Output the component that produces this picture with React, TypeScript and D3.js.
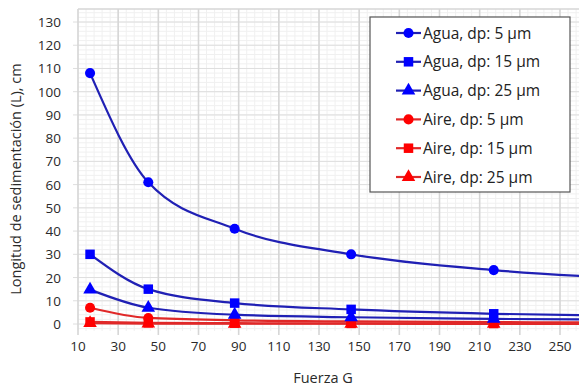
import React, { useEffect, useRef } from 'react';
import * as d3 from 'd3';

const fuerzaG = [16, 45, 88, 146, 217, 303];

const aguaDp5 = [108, 61, 41, 30, 23.2, 18.8];
const aguaDp15 = [30, 15, 9, 6.3, 4.4, 3.2];
const aguaDp25 = [14.8, 7, 4, 2.9, 2.2, 1.8];
const aireDp5 = [7, 2.6, 1.6, 1.1, 0.8, 0.6];
const aireDp15 = [0.9, 0.5, 0.35, 0.25, 0.2, 0.15];
const aireDp25 = [0.4, 0.2, 0.12, 0.1, 0.08, 0.06];

const seriesNames = [
  'Agua, dp: 5 µm',
  'Agua, dp: 15 µm',
  'Agua, dp: 25 µm',
  'Aire, dp: 5 µm',
  'Aire, dp: 15 µm',
  'Aire, dp: 25 µm',
];

const xTicks = [10, 30, 50, 70, 90, 110, 130, 150, 170, 190, 210, 230, 250];
const yTicks = [0, 10, 20, 30, 40, 50, 60, 70, 80, 90, 100, 110, 120, 130];

const W = 579;
const H = 389;
const FONT = "'Open Sans', sans-serif";

const App: React.FC = () => {
  const ref = useRef<SVGSVGElement>(null);

  useEffect(() => {
    const svg = d3.select(ref.current);
    svg.selectAll('*').remove();

    const left = 78;
    const top = 9;
    const bottom = 331;

    const x = d3.scaleLinear().domain([10, 250]).range([left, 560]);
    const y = d3.scaleLinear().domain([0, 130]).range([324, 22]);
    const right = x(270);

    const grid = svg.append('g');
    // minor vertical
    for (let v = 10; v <= 270; v += 4) {
      grid.append('line')
        .attr('x1', x(v)).attr('x2', x(v)).attr('y1', top).attr('y2', bottom)
        .attr('stroke', '#f0f0f0').attr('stroke-width', 1);
    }
    // minor horizontal
    for (let v = -2; v <= 134; v += 2) {
      grid.append('line')
        .attr('x1', left).attr('x2', right).attr('y1', y(v)).attr('y2', y(v))
        .attr('stroke', '#f0f0f0').attr('stroke-width', 1);
    }
    // major horizontal
    yTicks.forEach((v) => {
      grid.append('line')
        .attr('x1', left - 5).attr('x2', right).attr('y1', y(v)).attr('y2', y(v))
        .attr('stroke', '#dedede').attr('stroke-width', 1);
    });
    // major vertical
    xTicks.forEach((v) => {
      grid.append('line')
        .attr('x1', x(v)).attr('x2', x(v)).attr('y1', top).attr('y2', bottom + 4)
        .attr('stroke', '#d6d6d6').attr('stroke-width', 1.6);
    });
    grid.append('line')
      .attr('x1', left).attr('x2', right).attr('y1', top).attr('y2', top)
      .attr('stroke', '#d6d6d6').attr('stroke-width', 1.5);

    // tick labels
    svg.append('g').selectAll('text').data(yTicks).enter().append('text')
      .attr('x', 61).attr('y', (d) => y(d) + 5)
      .attr('text-anchor', 'end')
      .attr('font-family', FONT).attr('font-size', 13.5).attr('fill', '#2a2a2a')
      .text((d) => d);
    svg.append('g').selectAll('text').data(xTicks).enter().append('text')
      .attr('x', (d) => x(d)).attr('y', 351)
      .attr('text-anchor', 'middle')
      .attr('font-family', FONT).attr('font-size', 13.5).attr('fill', '#2a2a2a')
      .text((d) => d);

    svg.append('text')
      .attr('x', 323).attr('y', 383).attr('text-anchor', 'middle')
      .attr('font-family', FONT).attr('font-size', 14.5).attr('fill', '#2a2a2a')
      .text('Fuerza G');
    svg.append('text')
      .attr('transform', `translate(21,179) rotate(-90)`).attr('text-anchor', 'middle')
      .attr('font-family', FONT).attr('font-size', 14.5).attr('fill', '#2a2a2a')
      .text('Longitud de sedimentación (L), cm');

    const all = [aguaDp5, aguaDp15, aguaDp25, aireDp5, aireDp15, aireDp25];
    const markerColor = ['#0000ff', '#0000ff', '#0000ff', '#ff0000', '#ff0000', '#ff0000'];
    const lineColor = ['#2020b4', '#2020b4', '#2020b4', '#e02828', '#e02828', '#e02828'];
    const shapes = [d3.symbolCircle, d3.symbolSquare, d3.symbolTriangle, d3.symbolCircle, d3.symbolSquare, d3.symbolTriangle];
    const sizes = [80, 90, 80, 80, 90, 80];

    const line = d3.line<number>()
      .x((_, i) => x(fuerzaG[i]))
      .y((d) => y(d))
      .curve(d3.curveMonotoneX);

    const plot = svg.append('g');
    const order = [5, 4, 3, 2, 1, 0];
    order.forEach((s) => {
      plot.append('path')
        .attr('d', line(all[s]) as string)
        .attr('fill', 'none')
        .attr('stroke', lineColor[s]).attr('stroke-width', 2.2);
    });
    order.forEach((s) => {
      plot.selectAll(null).data(all[s]).enter().append('path')
        .attr('d', d3.symbol().type(shapes[s]).size(sizes[s]) as any)
        .attr('transform', (d, i) => `translate(${x(fuerzaG[i])},${y(d)})`)
        .attr('fill', markerColor[s]);
    });

    // legend
    const lg = svg.append('g');
    lg.append('rect')
      .attr('x', 370).attr('y', 17).attr('width', 200).attr('height', 175)
      .attr('fill', '#fff').attr('stroke', '#555').attr('stroke-width', 1.2);
    seriesNames.forEach((name, s) => {
      const ly = 33 + s * 28.8;
      lg.append('line')
        .attr('x1', 396).attr('x2', 421).attr('y1', ly).attr('y2', ly)
        .attr('stroke', lineColor[s]).attr('stroke-width', 2.2);
      lg.append('path')
        .attr('d', d3.symbol().type(shapes[s]).size(sizes[s]) as any)
        .attr('transform', `translate(408.5,${ly})`)
        .attr('fill', markerColor[s]);
      lg.append('text')
        .attr('x', 423).attr('y', ly + 5.5)
        .attr('font-family', FONT).attr('font-size', 15.5).attr('fill', '#222')
        .text(name);
    });
  }, []);

  return (
    <svg
      ref={ref}
      width={W}
      height={H}
      style={{ position: 'absolute', left: 0, top: 0, background: '#fff' }}
    />
  );
};

export default App;
